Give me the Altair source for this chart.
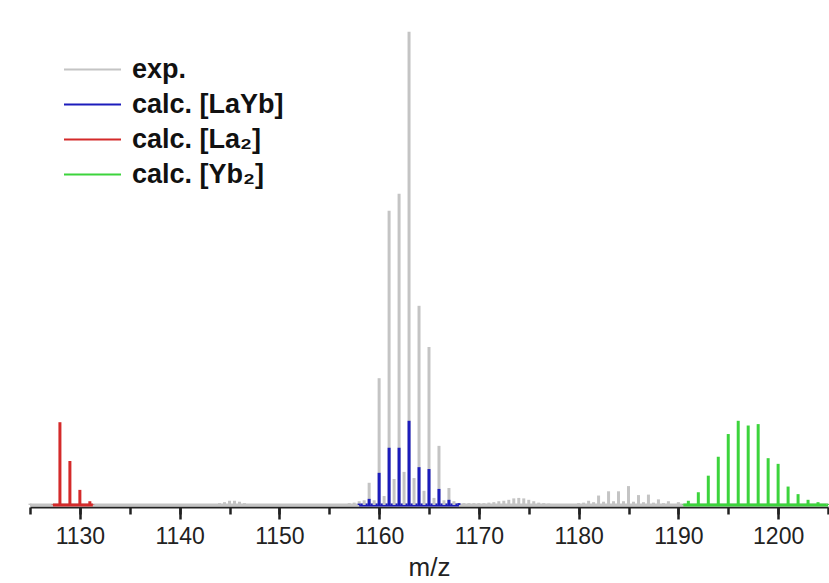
import altair as alt
import pandas as pd

# ---- data (intensity relative to strongest experimental peak = 100) ----
exp_mz = [1125, 1144, 1144.5, 1145, 1145.5, 1146, 1146.5,
          1157, 1157.5, 1158, 1158.5,
          1159, 1159.5, 1160, 1160.5, 1161, 1161.5, 1162, 1162.5, 1163, 1163.5,
          1164, 1164.5, 1165, 1165.5, 1166, 1166.5, 1167, 1167.5,
          1168, 1168.5, 1169, 1169.5, 1170, 1170.5, 1171, 1171.5, 1172, 1172.5,
          1173, 1173.5, 1174, 1174.5, 1175, 1175.5, 1176, 1176.5, 1177,
          1180, 1180.5, 1181, 1181.5, 1182, 1182.5, 1183, 1183.5, 1184, 1184.5,
          1185, 1185.5, 1186, 1186.5, 1187, 1187.5, 1188, 1188.5, 1189, 1190, 1205]
exp_int = [0.3, 0.4, 0.6, 0.9, 0.9, 0.7, 0.4,
           0.4, 0.5, 0.8, 1.0,
           4.7, 1.0, 26.8, 1.9, 62.2, 5.5, 65.8, 7.0, 100.0, 5.7,
           42.1, 3.0, 33.4, 1.5, 12.5, 1.0, 3.6, 0.8,
           0.4, 0.4, 0.4, 0.4, 0.4, 0.4, 0.5, 0.6, 0.8, 0.9,
           1.1, 1.4, 1.5, 1.4, 1.1, 0.8, 0.5, 0.4, 0.3,
           0.4, 0.5, 0.9, 0.6, 2.0, 0.7, 2.9, 0.8, 2.9, 0.8,
           4.0, 0.7, 2.1, 0.6, 2.2, 0.5, 1.2, 0.4, 0.8, 0.6, 0.3]

layb_mz = [1158, 1159, 1160, 1161, 1162, 1163, 1164, 1165, 1166, 1167, 1168]
layb_int = [0.3, 1.3, 6.8, 12.1, 12.1, 17.8, 8.0, 7.6, 3.4, 1.1, 0.4]

la2_mz = [1127.3, 1128, 1129, 1130, 1131, 1131.3]
la2_int = [0.1, 17.5, 9.3, 3.2, 0.8, 0.1]

yb2_mz = [1190.5, 1191, 1192, 1193, 1194, 1195, 1196, 1197, 1198, 1199, 1200,
          1201, 1202, 1203, 1204, 1205]
yb2_int = [0.1, 0.9, 2.7, 6.2, 10.2, 15.0, 17.8, 16.8, 17.1, 9.9, 8.7,
           3.9, 2.3, 1.1, 0.6, 0.2]

major_ticks = list(range(1130, 1201, 10))
minor_ticks = list(range(1125, 1206, 5))

series_names = ["exp.", "calc. [LaYb]", "calc. [La\u2082]", "calc. [Yb\u2082]"]
series_colors = ["#c4c4c4", "#1c1cbc", "#d42a2a", "#3cd43c"]

frames = []
for name, mz, it in zip(series_names,
                        [exp_mz, layb_mz, la2_mz, yb2_mz],
                        [exp_int, layb_int, la2_int, yb2_int]):
    frames.append(pd.DataFrame({"mz": mz, "intensity": it, "series": name}))
df = pd.concat(frames, ignore_index=True)

xscale = alt.Scale(domain=[1125, 1205], nice=False, zero=False)
yscale = alt.Scale(domain=[-0.42, 102.5], nice=False, zero=False)
cscale = alt.Scale(domain=series_names, range=series_colors)

minor_axis = alt.Axis(
    orient="bottom", values=minor_ticks, labels=False, domain=False, grid=False,
    tickSize=7, tickWidth=2.5, tickColor="#222222", title=None,
)
major_axis = alt.Axis(
    orient="bottom", values=major_ticks, format="d",
    tickSize=12, tickWidth=2.5, tickColor="#222222",
    domainColor="#222222", domainWidth=2,
    labelFont="Liberation Sans", labelFontSize=23, labelColor="#222222",
    labelPadding=6,
    titleFont="Liberation Sans", titleFontSize=26, titleFontWeight="normal",
    titleColor="#222222", titlePadding=6,
    grid=False,
)

legend = alt.Legend(
    title=None, orient="none", legendX=33, legendY=33,
    symbolType="stroke", symbolSize=3249, symbolStrokeWidth=2,
    labelFont="Liberation Sans", labelFontSize=27, labelFontWeight="bold",
    labelColor="#111111", labelOffset=10, rowPadding=2, clipHeight=33,
)

base = alt.Chart(df)

# baseline segment of each trace, spanning its own m/z range
baseline = base.transform_aggregate(
    lo="min(mz)", hi="max(mz)", groupby=["series"]
).transform_calculate(
    zero="0"
).mark_rule(strokeWidth=3).encode(
    x=alt.X("lo:Q", scale=xscale, axis=minor_axis),
    x2="hi:Q",
    y=alt.Y("zero:Q", scale=yscale, axis=None),
    color=alt.Color("series:N", scale=cscale, legend=legend),
)

peaks = base.mark_rule(strokeWidth=3).encode(
    x=alt.X("mz:Q", scale=xscale, axis=major_axis, title="m/z"),
    y=alt.Y("intensity:Q", scale=yscale, axis=None),
    y2=alt.datum(0),
    color=alt.Color("series:N", scale=cscale, legend=legend),
)

chart = alt.layer(baseline, peaks).resolve_axis(x="independent").properties(
    width=798, height=487,
    padding={"left": 30, "top": 20, "right": 1, "bottom": 76},
    autosize=alt.AutoSizeParams(type="none"),
).configure_view(stroke=None)

chart.save("out.html", embed_options={"renderer": "svg", "actions": False})
